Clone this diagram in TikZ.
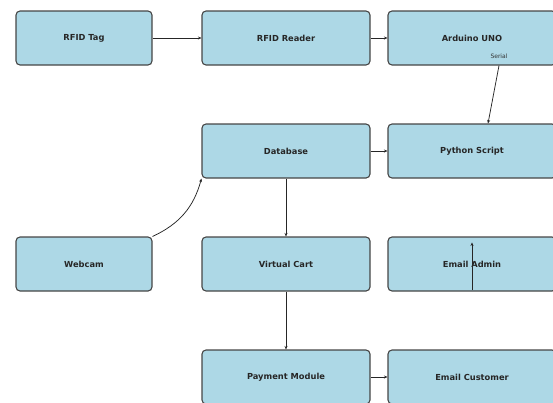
\documentclass[tikz,border=0pt]{standalone}
\usepackage{fontspec}
\setmainfont{DejaVu Sans}
\usetikzlibrary{arrows.meta,calc}
\definecolor{boxfill}{RGB}{173,216,230}
\definecolor{boxline}{RGB}{70,70,70}
\tikzset{
  blk/.style={draw=boxline, line width=1.1pt, fill=boxfill, rounded corners=4pt,
    minimum height=54pt, inner sep=0pt, font=\fontsize{8.3}{9}\selectfont\bfseries, text=black!85},
  wcol/.style={blk, minimum width=136pt},
  ncol/.style={blk, minimum width=168pt},
  conn/.style={draw=black!85, line width=0.75pt, -{Stealth[length=3.5pt,width=3pt]}},
}
\begin{document}
\begin{tikzpicture}[x=1pt,y=-1pt]
\useasboundingbox (0,0) rectangle (553,402);
\begin{scope}
\clip (0,0) rectangle (553,402);
\node[wcol] (tag) at (84,38) {RFID Tag};
\node[ncol] (reader) at (286,38) {RFID Reader};
\node[ncol] (ard) at (472,38) {Arduino UNO};
\node[ncol] (db) at (286,151) {Database};
\node[ncol] (py) at (472,151) {Python Script};
\node[wcol] (cam) at (84,264) {Webcam};
\node[ncol] (cart) at (286,264) {Virtual Cart};
\node[ncol] (admin) at (472,264) {Email Admin};
\node[ncol] (pay) at (286,377) {Payment Module};
\node[ncol] (cust) at (472,377) {Email Customer};

\coordinate (ardout) at ($(ard.south)+(27,0)$);
\coordinate (pyin) at ($(py.north)+(16,0)$);
\coordinate (adminlo) at ($(admin.south)+(0,-2)$);
\coordinate (adminhi) at ($(admin.north)+(0,6)$);

\node[font=\fontsize{6}{7}\selectfont, text=black!80, anchor=south] (serial) at ($(ardout)+(0,-3)$) {Serial};

\draw[conn] (tag.east) -- (reader.west);
\draw[conn] (reader.east) -- (ard.west);
\draw[conn] (ardout) -- (pyin);
\draw[conn] (db.east) -- (py.west);
\draw[conn] (cam.north east) to[bend right=25] (db.south west);
\draw[conn] (db.south) -- (cart.north);
\draw[conn] (cart.south) -- (pay.north);
\draw[conn] (pay.east) -- (cust.west);
\draw[conn] (adminlo) -- (adminhi);
\end{scope}
\end{tikzpicture}
\end{document}
